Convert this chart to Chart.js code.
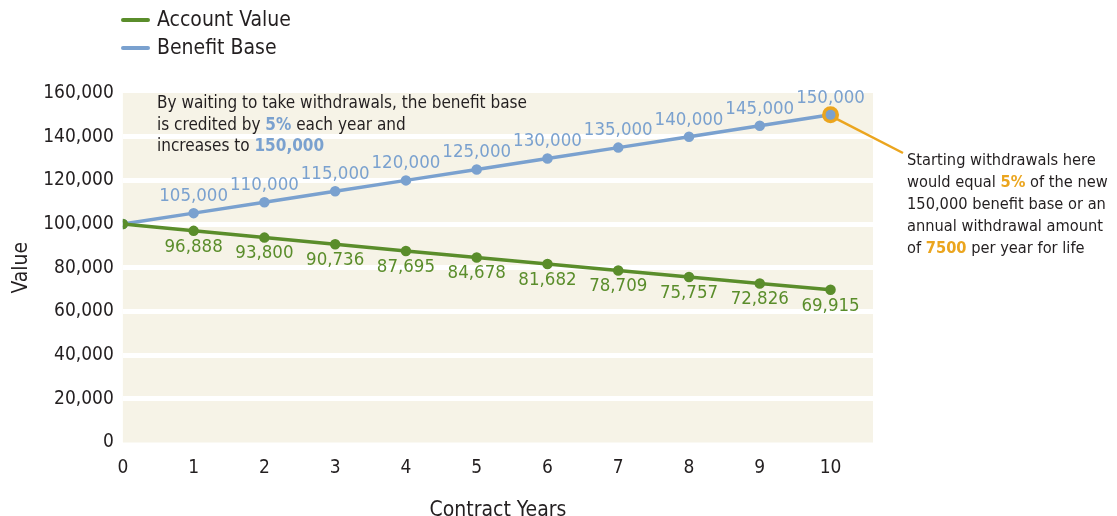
<!DOCTYPE html>
<html>
<head>
<meta charset="utf-8">
<script src="https://cdn.jsdelivr.net/npm/chart.js@4/dist/chart.umd.min.js"></script>
<style>
  html, body { margin: 0; padding: 0; background: #ffffff; }
  #wrap { position: relative; width: 1117px; height: 516px; }
</style>
</head>
<body>
<div id="wrap"><canvas id="c"></canvas></div>
<script>
// ---- data ----
const contractYears = [0, 1, 2, 3, 4, 5, 6, 7, 8, 9, 10];
const accountValue = [100000, 96888, 93800, 90736, 87695, 84678, 81682, 78709, 75757, 72826, 69915];
const benefitBase = [100000, 105000, 110000, 115000, 120000, 125000, 130000, 135000, 140000, 145000, 150000];
const seriesNames = ['Account Value', 'Benefit Base'];
const yMin = 0, yMax = 160000, yStep = 20000;
const noteLeft = [
  [{t: 'By waiting to take withdrawals, the benefit base'}],
  [{t: 'is credited by '}, {t: '5%', c: 'blue', b: true}, {t: ' each year and'}],
  [{t: 'increases to '}, {t: '150,000', c: 'blue', b: true}]
];
const noteRight = [
  [{t: 'Starting withdrawals here'}],
  [{t: 'would equal '}, {t: '5%', c: 'orange', b: true}, {t: ' of the new'}],
  [{t: '150,000 benefit base or an'}],
  [{t: 'annual withdrawal amount'}],
  [{t: 'of '}, {t: '7500', c: 'orange', b: true}, {t: ' per year for life'}]
];
const highlightIndex = 10;

// ---- styles ----
const FONT = "'Liberation Sans Narrow', 'DejaVu Sans Condensed', 'Roboto', sans-serif";
const GREEN = '#5a8d2b';
const BLUE = '#7aa1cf';
const ORANGE = '#eba51e';
const BEIGE = '#f6f3e7';
const TEXT = '#231f20';
const palette = {blue: BLUE, orange: ORANGE};

function drawRich(ctx, lines, x, y, lineH, size) {
  ctx.save();
  ctx.textBaseline = 'middle';
  ctx.textAlign = 'left';
  lines.forEach((segs, i) => {
    let cx = x;
    segs.forEach(s => {
      ctx.font = (s.b ? 'bold ' : '') + size + 'px ' + FONT;
      ctx.fillStyle = s.c ? palette[s.c] : TEXT;
      ctx.fillText(s.t, cx, y + i * lineH);
      cx += ctx.measureText(s.t).width;
    });
  });
  ctx.restore();
}

const bgPlugin = {
  id: 'bg',
  beforeDraw(chart) {
    const {ctx, chartArea: a} = chart;
    ctx.save();
    ctx.fillStyle = BEIGE;
    ctx.fillRect(a.left, a.top, a.right - a.left, a.bottom - a.top);
    ctx.restore();
  }
};

const decoPlugin = {
  id: 'deco',
  afterDatasetsDraw(chart) {
    const ctx = chart.ctx;
    // data labels
    ctx.save();
    ctx.font = '18.5px ' + FONT;
    ctx.textAlign = 'center';
    ctx.textBaseline = 'middle';
    const m0 = chart.getDatasetMeta(0), m1 = chart.getDatasetMeta(1);
    m0.data.forEach((p, i) => {
      if (i === 0) return;
      ctx.fillStyle = GREEN;
      ctx.fillText(accountValue[i].toLocaleString('en-US'), p.x, p.y + 16);
    });
    m1.data.forEach((p, i) => {
      if (i === 0) return;
      ctx.fillStyle = BLUE;
      ctx.fillText(benefitBase[i].toLocaleString('en-US'), p.x, p.y - 17);
    });
    ctx.restore();

    // highlight ring + leader line
    const hp = m1.data[highlightIndex];
    ctx.save();
    ctx.strokeStyle = ORANGE;
    ctx.lineWidth = 2.5;
    ctx.beginPath();
    ctx.moveTo(hp.x + 6, hp.y + 4);
    ctx.lineTo(903, 153);
    ctx.stroke();
    ctx.fillStyle = ORANGE;
    ctx.beginPath();
    ctx.arc(hp.x, hp.y, 8.5, 0, Math.PI * 2);
    ctx.fill();
    ctx.fillStyle = BLUE;
    ctx.beginPath();
    ctx.arc(hp.x, hp.y, 5, 0, Math.PI * 2);
    ctx.fill();
    ctx.restore();

    // notes
    drawRich(ctx, noteLeft, 157, 104, 21.5, 17);
    drawRich(ctx, noteRight, 907, 161, 22, 16.3);

    // legend
    const ds = chart.data.datasets;
    ctx.save();
    ds.forEach((d, i) => {
      const y = 20 + i * 28;
      ctx.strokeStyle = d.borderColor;
      ctx.lineWidth = 4;
      ctx.lineCap = 'round';
      ctx.beginPath();
      ctx.moveTo(123, y);
      ctx.lineTo(148, y);
      ctx.stroke();
      ctx.font = '21px ' + FONT;
      ctx.fillStyle = TEXT;
      ctx.textBaseline = 'middle';
      ctx.textAlign = 'left';
      ctx.fillText(d.label, 157, y + 1);
    });
    ctx.restore();
  }
};

new Chart(document.getElementById('c'), {
  type: 'line',
  data: {
    datasets: [
      {
        label: seriesNames[0],
        data: contractYears.map((x, i) => ({x, y: accountValue[i]})),
        borderColor: GREEN, backgroundColor: GREEN,
        borderWidth: 3.5, pointRadius: 3.5, pointHoverRadius: 3.5, tension: 0
      },
      {
        label: seriesNames[1],
        data: contractYears.map((x, i) => ({x, y: benefitBase[i]})),
        borderColor: BLUE, backgroundColor: BLUE,
        borderWidth: 3.5, pointRadius: 3.5, pointHoverRadius: 3.5, tension: 0
      }
    ]
  },
  options: {
    responsive: true,
    maintainAspectRatio: false,
    animation: false,
    events: [],
    layout: { padding: { top: 93, right: 244, left: 9, bottom: -7 } },
    plugins: { legend: { display: false }, tooltip: { enabled: false } },
    scales: {
      x: {
        type: 'linear', min: 0, max: 10.6,
        grid: { display: false, drawTicks: false },
        border: { display: false },
        ticks: { stepSize: 1, includeBounds: false, color: TEXT, font: { family: FONT, size: 19 }, padding: 14 },
        title: { display: true, text: 'Contract Years', color: TEXT, font: { family: FONT, size: 21 }, padding: { top: 4.5, bottom: 0 } }
      },
      y: {
        min: yMin, max: yMax,
        grid: {
          color: (c) => (c.tick && (c.tick.value === yMin || c.tick.value === yMax)) ? 'rgba(0,0,0,0)' : '#ffffff',
          lineWidth: 5, drawTicks: false
        },
        border: { display: false },
        ticks: {
          stepSize: yStep, color: TEXT, font: { family: FONT, size: 19 }, padding: 9,
          callback: (v) => v.toLocaleString('en-US')
        },
        title: { display: true, text: 'Value', color: TEXT, font: { family: FONT, size: 21 }, padding: { top: 0, bottom: 0 } }
      }
    }
  },
  plugins: [bgPlugin, decoPlugin]
});
</script>
</body>
</html>
